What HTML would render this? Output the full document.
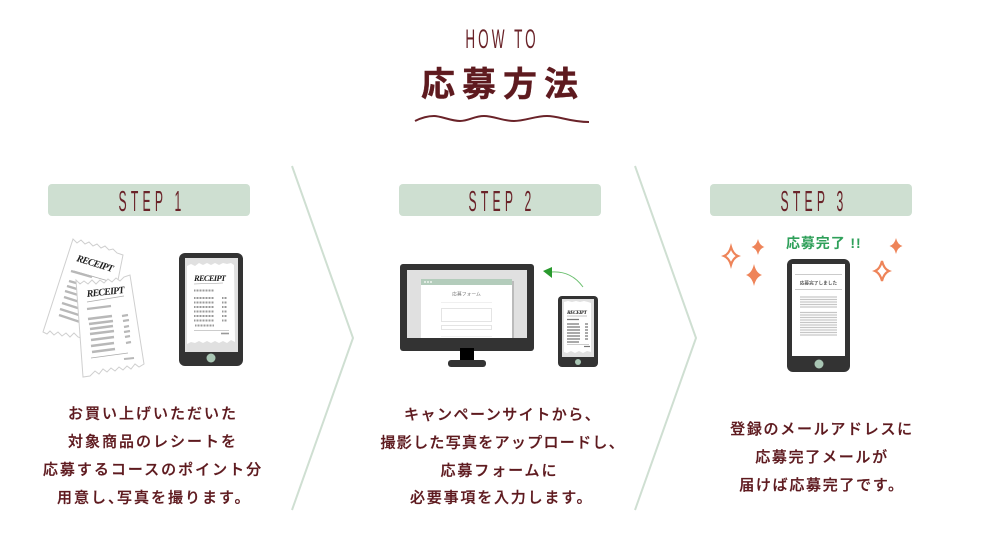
<!DOCTYPE html>
<html lang="ja"><head><meta charset="utf-8">
<style>
html,body{margin:0;padding:0;background:#fff;width:1000px;height:540px;overflow:hidden}
svg{display:block}
text{font-family:"Liberation Sans","Noto Sans CJK JP",sans-serif}
.b{font-size:15px;letter-spacing:2px;fill:#5e1a1f;stroke:#5e1a1f;stroke-width:.25px;text-anchor:middle;font-weight:500}
.l{text-anchor:start}
.s{font-size:29px;fill:#6a2329;text-anchor:middle}
.r{font-family:"Liberation Serif",serif;font-style:italic;font-weight:700;fill:#222}
</style></head><body>
<svg width="1000" height="540" viewBox="0 0 1000 540" xmlns="http://www.w3.org/2000/svg">
<rect width="1000" height="540" fill="#fff"/>

<!-- Header -->
<text transform="translate(502,48) scale(.51,1)" font-size="26.5" fill="#6a2329" text-anchor="middle" letter-spacing="6">HOW TO</text>
<text x="503" y="96" font-size="34" font-weight="700" fill="#5e1a1f" stroke="#5e1a1f" stroke-width=".4" text-anchor="middle" letter-spacing="7">応募方法</text>
<path d="M415 121C421 118 427 116 434 116S451 121 460 121 474 116 484 116 503 121 514 121 535 116 547 116 570 122 589 122" fill="none" stroke="#6a2329" stroke-width="2"/>

<!-- Dividers -->
<path d="M292 166L353 338 292 510M635 166L696 338 635 510" fill="none" stroke="#cfdfd2" stroke-width="2"/>

<!-- Step labels -->
<rect x="48" y="184" width="202" height="32" rx="4" fill="#cedfd1"/>
<rect x="399" y="184" width="202" height="32" rx="4" fill="#cedfd1"/>
<rect x="710" y="184" width="202" height="32" rx="4" fill="#cedfd1"/>
<text class="s" transform="translate(152,211) scale(.42,1)" letter-spacing="10">STEP 1</text>
<text class="s" transform="translate(502,211) scale(.42,1)" letter-spacing="10">STEP 2</text>
<text class="s" transform="translate(814,211) scale(.42,1)" letter-spacing="10">STEP 3</text>

<!-- Step 1: back receipt -->
<polygon points="73,239 77,243 81,240 85,244 89,242 93,246 97,244 101,248 105,246 109,250 113,249 117,253 123,255 116,290 100,345 78,337 74,333 70,337 66,333 62,336 58,332 54,335 50,331 47,334 43,332" fill="#fff" stroke="#cfcfcf" stroke-width="1"/>
<text class="r" transform="translate(76,261) rotate(17)" font-size="10" textLength="38">RECEIPT</text>
<path d="M74 271L112 282" stroke="#aaa" stroke-width=".7"/>
<path d="M71 271L92 277M69 281L90 287M67 286L90 293M65 291L88 298M64 297L86 304M62 303L84 310M60 309L82 316M59 315L80 322" stroke="#b8b8b8" stroke-width="2.4" fill="none"/>

<!-- Step 1: front receipt -->
<polygon points="76,280 80,284 84,281 88,284 92,280 96,284 100,280 104,283 108,279 112,282 116,278 120,281 124,277 130,275 144,364 139,367 135,364 131,369 127,366 123,370 119,367 115,371 111,368 107,372 103,369 99,374 95,371 90,376 83,377" fill="#fff" stroke="#cfcfcf" stroke-width="1"/>
<text class="r" transform="translate(87,297) rotate(-6)" font-size="10" textLength="38">RECEIPT</text>
<path d="M87 302L124 296" stroke="#aaa" stroke-width=".7"/>
<path d="M87 309L111 306" stroke="#b8b8b8" stroke-width="2.2"/>
<path d="M88 319L112 316M89 324L113 321M90 329L113 326M90 334L114 331M91 340L114 337M91 346L114 343M92 352L115 349" stroke="#b8b8b8" stroke-width="2.4"/>
<path d="M122 316L128 315M123 321L129 320M124 327L129 326M124 332L130 331M125 337L130 336M126 343L131 342" stroke="#b8b8b8" stroke-width="2.2"/>
<path d="M91 358L128 353" stroke="#aaa" stroke-width=".7"/>
<path d="M124 359L134 358" stroke="#b8b8b8" stroke-width="2"/>

<!-- Step 1: phone -->
<rect x="179" y="253" width="64" height="113" rx="6" fill="#333"/>
<rect x="185" y="258" width="53" height="94" fill="#e0e0e0"/>
<polygon points="187,266 191,264 195,266 199,263 203,265 207,263 211,265 215,263 219,265 223,263 227,264 231,263 234,265 235,342 231,340 227,343 223,341 219,343 215,341 211,343 207,341 203,343 199,341 195,343 191,342 187,344" fill="#fff"/>
<text class="r" x="194" y="281" font-size="8.500" textLength="32">RECEIPT</text>
<path d="M194 284L223 283" stroke="#999" stroke-width=".6"/>
<path d="M194 290.500H214M194 298H214M194 302.500H214M194 307H214M194 311.500H214M194 316H214M194 320.500H214M195 325.500H214" stroke="#999" stroke-width="2" stroke-dasharray="1 .5"/>
<path d="M222 298H227M222 302.500H227M222 307H227M222 311.500H227M222 316H227M222 320.500H227" stroke="#999" stroke-width="2" stroke-dasharray="1 .5"/>
<path d="M194 330.500H229" stroke="#999" stroke-width=".6"/>
<path d="M221 333.500H229" stroke="#999" stroke-width="1.600"/>
<circle cx="211" cy="358" r="4.500" fill="#a9c6b4"/>

<!-- Step 2: monitor -->
<rect x="400" y="264" width="134" height="87" rx="3" fill="#333"/>
<rect x="407" y="270" width="120" height="68" fill="#e0e0e0"/>
<rect x="512" y="281" width="2" height="57" fill="#bbb"/>
<rect x="421" y="279" width="91" height="59" fill="#fff"/>
<rect x="421" y="279" width="91" height="6" fill="#b3ccbb"/>
<circle cx="425" cy="282" r=".9" fill="#fff"/><circle cx="428" cy="282" r=".9" fill="#fff"/><circle cx="431" cy="282" r=".9" fill="#fff"/>
<text x="466.500" y="295.500" font-size="4.800" fill="#777" text-anchor="middle">応募フォーム</text>
<path d="M441 302.500H492M441 336.500H492" stroke="#f0f0f0" stroke-width="1"/>
<rect x="441.500" y="308.500" width="50" height="13" fill="#fff" stroke="#e4e4e4"/>
<rect x="441.500" y="325.500" width="50" height="4" fill="#fff" stroke="#e4e4e4"/>
<rect x="460" y="348" width="14" height="13" fill="#000"/>
<rect x="448" y="360" width="38" height="7" rx="3" fill="#333"/>

<!-- Step 2: arrow -->
<path d="M583 287C575 276 565 271 551 272" fill="none" stroke="#6cc070" stroke-width="1"/>
<polygon points="543,271 552,267 552,278" fill="#2a9a2e"/>

<!-- Step 2: small phone -->
<rect x="558" y="296" width="40" height="71" rx="4" fill="#333"/>
<rect x="562" y="299" width="32" height="58" fill="#e0e0e0"/>
<polygon points="564,302 568,301 572,302 576,301 580,302 584,301 588,302 591,303 591,352 587,351 583,353 579,351 575,353 571,351 567,353 564,352" fill="#fff"/>
<text class="r" x="567" y="314" font-size="5.500" textLength="20">RECEIPT</text>
<path d="M567 316H587" stroke="#888" stroke-width=".5"/>
<path d="M567 319.500H579M567 324H579M567 327H580M567 330H580M567 333H580M567 336H580M567 339H580M567 342H579" stroke="#777" stroke-width="1.200"/>
<path d="M585 324H588M585 327H588M585 330H588M585 333H588M585 336H588M585 339H588" stroke="#777" stroke-width="1.200"/>
<path d="M567 344.500H589" stroke="#999" stroke-width=".5"/>
<path d="M584 346.500H590" stroke="#777" stroke-width="1.200"/>
<circle cx="578" cy="362" r="3" fill="#a9c6b4"/>

<!-- Step 3 -->
<text x="786" y="248" font-size="14" font-weight="700" fill="#2fa05a" letter-spacing=".9">応募完了 !!</text>
<path d="M758 239Q759.500 245.500 764.500 247 759.500 248.500 758 255 756.500 248.500 751.500 247 756.500 245.500 758 239Z" fill="#ee8459"/>
<path d="M754 264Q756 273 762 275 756 277 754 286 752 277 746 275 752 273 754 264Z" fill="#ee8459"/>
<path d="M896 238Q897.500 244.500 902.500 246 897.500 247.500 896 254 894.500 247.500 889.500 246 894.500 244.500 896 238Z" fill="#ee8459"/>
<path d="M731 247Q733 254 738 256 733 258 731 265 729 258 724 256 729 254 731 247Z" fill="#fff" stroke="#ee8459" stroke-width="2.200"/>
<path d="M882 261Q884 269 889 271 884 273 882 281 880 273 875 271 880 269 882 261Z" fill="#fff" stroke="#ee8459" stroke-width="2.200"/>

<rect x="787" y="259" width="63" height="113" rx="6" fill="#333"/>
<rect x="792" y="264" width="53" height="92" fill="#fff"/>
<path d="M795 274.500H842M795 289.500H842" stroke="#bbb" stroke-width=".8"/>
<text x="818.500" y="284.500" font-size="4.700" font-weight="700" fill="#555" text-anchor="middle">応募完了しました</text>
<path d="M800 297H837M800 299.500H837M800 302H837M800 304.500H837M800 307H837M800 312.500H837M800 315H837M800 317.500H837M800 320H837M800 322.500H837M800 325H837M800 327.500H837M800 330H837M800 332.500H837M800 335H837" stroke="#c6c6c6" stroke-width="1.200"/>
<circle cx="819" cy="364" r="4.500" fill="#a9c6b4"/>

<!-- Body text -->
<text class="b" x="153" y="418.500">お買い上げいただいた</text>
<text class="b" x="153" y="446.500">対象商品のレシートを</text>
<text class="b" x="153" y="474.500">応募するコースのポイント分</text>
<text class="b l" x="57" y="502.500">用意し<tspan letter-spacing="-6">、</tspan>写真を撮ります。</text>

<text class="b l" x="404" y="419.500" style="letter-spacing:1.500px">キャンペーンサイトから、</text>
<text class="b l" x="380.500" y="447.500" style="letter-spacing:1.300px">撮影した写真をアップロードし、</text>
<text class="b l" x="440.500" y="475.500" style="letter-spacing:1.900px">応募フォームに</text>
<text class="b l" x="410" y="502.500" style="letter-spacing:1.800px">必要事項を入力します。</text>

<text class="b" x="822" y="434" style="letter-spacing:1.700px">登録のメールアドレスに</text>
<text class="b" x="822" y="462" style="letter-spacing:1.700px">応募完了メールが</text>
<text class="b" x="822" y="490" style="letter-spacing:1.700px">届けば応募完了です。</text>
</svg>
</body></html>
